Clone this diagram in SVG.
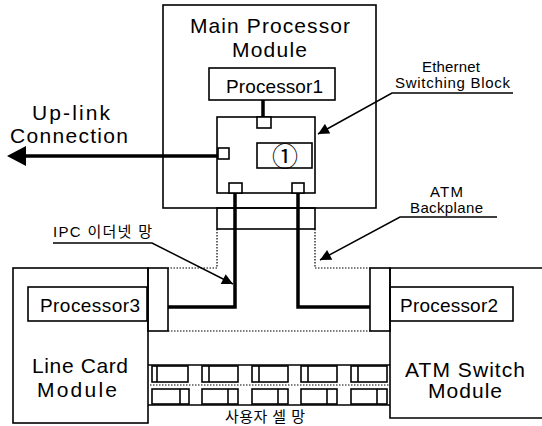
<svg xmlns="http://www.w3.org/2000/svg" width="542" height="426" viewBox="0 0 542 426">
  <style>
    .box { fill: none; stroke: #000; stroke-width: 1.6; }
    .port { fill: #fff; stroke: #000; stroke-width: 1.6; }
    .bus { fill: none; stroke: #000; stroke-width: 3.5; stroke-linejoin: miter; }
    .lead { fill: none; stroke: #000; stroke-width: 1.5; }
    .dot { fill: none; stroke: #000; stroke-width: 1.2; stroke-dasharray: 1.5 1.5; }
    .big { font-family: "Liberation Sans", Arial, sans-serif; font-size: 21px; fill: #000; }
    .mid { font-family: "Liberation Sans", Arial, sans-serif; font-size: 19px; fill: #000; }
    .small { font-family: "Liberation Sans", "Noto Sans CJK KR", sans-serif; font-size: 15px; fill: #000; }
  </style>
  <defs>
    <marker id="tri" viewBox="0 0 10 10" refX="10" refY="5" markerWidth="14" markerHeight="11" markerUnits="userSpaceOnUse" orient="auto">
      <path d="M0,0 L10,5 L0,10 Z" fill="#000"/>
    </marker>
  </defs>
  <rect width="542" height="426" fill="#fff"/>

  <!-- backplane outline (dotted) -->
  <g id="backplane">
    <rect class="box" x="217" y="208" width="98" height="21"/>
    <path class="dot" d="M217,229 V268 H168"/>
    <path class="dot" d="M315,229 V268 H370"/>
    <path class="dot" d="M168,331 H370"/>
  </g>

  <!-- main processor module -->
  <g id="main-module">
    <rect class="box" x="163" y="5" width="213" height="203"/>
    <text class="big" x="190" y="33" textLength="160" lengthAdjust="spacing">Main Processor</text>
    <text class="big" x="232" y="57" textLength="75" lengthAdjust="spacing">Module</text>
  </g>

  <g id="processor1">
    <rect class="box" x="209" y="68" width="126" height="32"/>
    <text class="mid" x="226" y="93" textLength="97" lengthAdjust="spacing">Processor1</text>
  </g>

  <!-- connectors -->
  <g id="connectors">
    <path class="bus" d="M263,100 V117"/>
    <path class="bus" d="M218,156 H24"/>
    <path d="M7,156 L26,146 L26,166 Z" fill="#000"/>
    <path class="bus" d="M235,193 V307 H168"/>
    <path class="bus" d="M298,193 V307 H370"/>
    <path class="lead" d="M513,93 H392 L318,134" marker-end="url(#tri)"/>
    <path class="lead" d="M497,217 H400 L320,260" marker-end="url(#tri)"/>
    <path class="lead" d="M53,243 H152 L233,284" marker-end="url(#tri)"/>
  </g>

  <g id="eth-switch">
    <rect class="box" x="217" y="117" width="98" height="76"/>
    <rect class="port" x="257" y="117" width="14" height="11"/>
    <rect class="port" x="218" y="148" width="11" height="11"/>
    <rect class="port" x="229" y="183" width="13" height="10"/>
    <rect class="port" x="292" y="183" width="12" height="10"/>
    <rect class="box" x="257" y="143" width="55" height="25"/>
    <text x="285" y="166" text-anchor="middle" font-family="Noto Sans CJK KR, sans-serif" font-size="26" fill="#000">①</text>
  </g>

  <g id="uplink-label">
    <text class="big" x="32" y="120" font-size="20" textLength="78" lengthAdjust="spacing">Up-link</text>
    <text class="big" x="10" y="143" font-size="20" textLength="118" lengthAdjust="spacing">Connection</text>
  </g>

  <g id="eth-label">
    <text class="small" x="422" y="72" textLength="58" lengthAdjust="spacing">Ethernet</text>
    <text class="small" x="395" y="88" textLength="115" lengthAdjust="spacing">Switching Block</text>
  </g>

  <g id="backplane-label">
    <text class="small" x="430" y="197" textLength="33" lengthAdjust="spacing">ATM</text>
    <text class="small" x="410" y="213" textLength="73" lengthAdjust="spacing">Backplane</text>
  </g>

  <g id="ipc-label">
    <text class="small" x="53" y="237" textLength="99" lengthAdjust="spacing">IPC 이더넷 망</text>
  </g>

  <!-- line card module -->
  <g id="line-card">
    <rect class="box" x="13" y="268" width="135" height="155"/>
    <rect class="box" x="148" y="268" width="20" height="63"/>
    <rect class="box" x="28" y="287" width="119" height="34"/>
    <text class="mid" x="40" y="312" textLength="100" lengthAdjust="spacing">Processor3</text>
    <text class="big" x="32" y="373" textLength="96" lengthAdjust="spacing">Line Card</text>
    <text class="big" x="37" y="397" textLength="80" lengthAdjust="spacing">Module</text>
  </g>

  <!-- ATM switch module -->
  <g id="atm-switch">
    <path class="box" d="M560,268 H390 V418 H560"/>
    <rect class="box" x="370" y="268" width="20" height="63"/>
    <rect class="box" x="390" y="287" width="123" height="34"/>
    <text class="mid" x="400" y="312" textLength="98" lengthAdjust="spacing">Processor2</text>
    <text class="big" x="405" y="377" textLength="120" lengthAdjust="spacing">ATM Switch</text>
    <text class="big" x="428" y="398" textLength="74" lengthAdjust="spacing">Module</text>
  </g>

  <!-- user cell network -->
  <g id="cell-net">
    <path class="box" d="M148,365 H390 M148,405 H390"/>
    <path class="dot" d="M150,385 H390"/>
    <g class="box">
      <rect x="152" y="366" width="36" height="16"/><path d="M157,366 V382"/>
      <rect x="202" y="366" width="36" height="16"/><path d="M209,366 V382"/>
      <rect x="252" y="366" width="36" height="16"/><path d="M259,366 V382"/>
      <rect x="301" y="366" width="36" height="16"/><path d="M308,366 V382"/>
      <rect x="351" y="366" width="36" height="16"/><path d="M358,366 V382"/>
      <rect x="152" y="389" width="37" height="15"/><path d="M180,389 V404"/>
      <rect x="202" y="389" width="36" height="15"/><path d="M228,389 V404"/>
      <rect x="252" y="389" width="36" height="15"/><path d="M278,389 V404"/>
      <rect x="301" y="389" width="36" height="15"/><path d="M327,389 V404"/>
      <rect x="351" y="389" width="36" height="15"/><path d="M377,389 V404"/>
    </g>
    <text class="small" x="225" y="422" textLength="80" lengthAdjust="spacing">사용자 셀 망</text>
  </g>
</svg>
